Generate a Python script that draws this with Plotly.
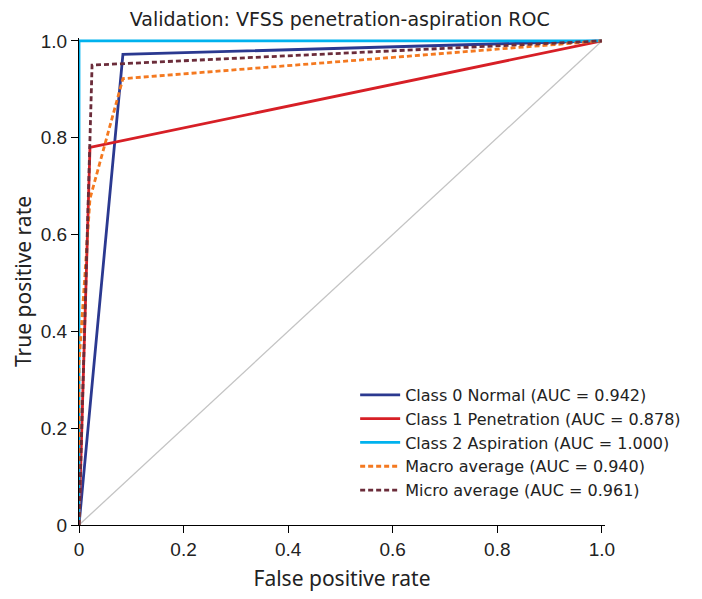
import plotly.graph_objects as go

# ROC points
fpr_normal = [0.0, 0.084, 1.0]
tpr_normal = [0.0, 0.972, 1.0]

fpr_pen = [0.0, 0.021, 1.0]
tpr_pen = [0.0, 0.780, 1.0]

fpr_asp = [0.0, 0.0, 1.0]
tpr_asp = [0.0, 1.0, 1.0]

fpr_macro = [0.0, 0.0, 0.021, 0.084, 1.0]
tpr_macro = [0.0, 0.333, 0.674, 0.922, 1.0]

fpr_micro = [0.0, 0.025, 1.0]
tpr_micro = [0.0, 0.950, 1.0]

names = [
    "Class 0 Normal (AUC = 0.942)",
    "Class 1 Penetration (AUC = 0.878)",
    "Class 2 Aspiration (AUC = 1.000)",
    "Macro average (AUC = 0.940)",
    "Micro average (AUC = 0.961)",
]
ticks = [0, 0.2, 0.4, 0.6, 0.8, 1.0]
tick_labels = ["0", "0.2", "0.4", "0.6", "0.8", "1.0"]

FONT = "Noto Sans"
TICKFONT = "Liberation Sans"

fig = go.Figure()

# chance diagonal
fig.add_trace(go.Scatter(x=[0, 1], y=[0, 1], mode="lines",
                         line=dict(color="#c4c4c4", width=1.3),
                         showlegend=False, hoverinfo="skip"))

series = [
    (fpr_normal, tpr_normal, "#2b3990", "solid"),
    (fpr_pen, tpr_pen, "#d71f26", "solid"),
    (fpr_asp, tpr_asp, "#00b2ee", "solid"),
    (fpr_macro, tpr_macro, "#f47920", "5px,3px"),
    (fpr_micro, tpr_micro, "#6b2c3a", "5px,3px"),
]
for (x, y, col, dash), name in zip(series, names):
    fig.add_trace(go.Scatter(x=x, y=y, mode="lines", name=name,
                             line=dict(color=col, width=2.8, dash=dash)))

axis_common = dict(
    tickvals=ticks, ticktext=tick_labels,
    showgrid=False, zeroline=False,
    showline=True, linecolor="black", linewidth=1.3,
    ticks="outside", ticklen=7, tickcolor="black", tickwidth=1.3,
    tickfont=dict(family=TICKFONT, size=19, color="#222222"),
    title_font=dict(family=FONT, size=21, color="#222222"),
    automargin=False,
)

# page body has an 8px margin, so the figure is a little smaller
fig.update_layout(
    width=694, height=591,
    margin=dict(l=71, r=97, t=30, b=74),
    plot_bgcolor="white", paper_bgcolor="white",
    title=dict(text="Validation: VFSS penetration-aspiration ROC",
               x=0.478, xanchor="center", y=0.98, yanchor="middle",
               font=dict(family="DejaVu Sans", size=19, color="#222222")),
    xaxis=dict(range=[0, 1.006], title=dict(text="False positive rate", standoff=12),
               **axis_common),
    yaxis=dict(range=[0, 1.006], title=dict(text="True positive rate", standoff=3),
               **axis_common),
    legend=dict(x=0.525, y=0.302, xanchor="left", yanchor="top",
                bgcolor="rgba(0,0,0,0)", borderwidth=0,
                font=dict(family="DejaVu Sans", size=16, color="#222222"),
                itemwidth=40, tracegroupgap=0),
    showlegend=True,
)

fig.write_html("out.html")
